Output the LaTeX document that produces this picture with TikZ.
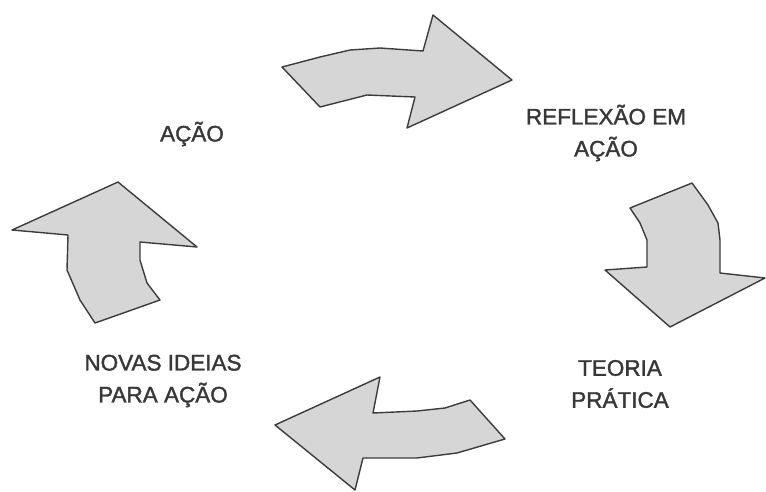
\documentclass[tikz,border=0pt]{standalone}
\usepackage{fontspec}
\setmainfont{Liberation Sans}
\newfontfamily\labelfont[FakeBold=1.6]{Liberation Sans}
\definecolor{arrowfill}{HTML}{D6D6D6}
\definecolor{arrowline}{HTML}{3C3C3C}
\definecolor{labeltext}{HTML}{383838}
\begin{document}
\begin{tikzpicture}[x=1pt,y=-1pt,
  cyclearrow/.style={fill=arrowfill,draw=arrowline,line width=1.4pt,line join=round},
  label/.style={text=labeltext,font=\labelfont\fontsize{22.5}{32}\selectfont,align=center,inner sep=0pt}]
\useasboundingbox (0,0) rectangle (766,491);
% top arrow (ACAO -> REFLEXAO)
\draw[cyclearrow] (282,67) -- (320,57) -- (350,50) -- (380,48) -- (423,51) -- (433,15) -- (512,80)
  -- (407,128) -- (415,97) -- (367,95) -- (320,107) -- cycle;
% right arrow (REFLEXAO -> TEORIA)
\draw[cyclearrow] (630,208) -- (692,183) -- (708,205) -- (718,223) -- (720,240) -- (720,273)
  -- (765,278) -- (670,327) -- (605,270) -- (647,267) -- (647,240) -- (640,223) -- cycle;
% bottom arrow (TEORIA -> NOVAS IDEIAS)
\draw[cyclearrow] (275,425) -- (380,377) -- (373,413) -- (417,411) -- (445,408) -- (470,400)
  -- (505,439) -- (457,453) -- (417,458) -- (363,458) -- (355,490) -- cycle;
% left arrow (NOVAS IDEIAS -> ACAO)
\draw[cyclearrow] (118,182) -- (197,247) -- (140,242) -- (140,260) -- (147,283) -- (160,300)
  -- (95,323) -- (80,300) -- (67,270) -- (68,235) -- (12,230) -- cycle;
% labels
\node[label] (acao) at (192,134) {AÇÃO};
\node[label] (reflexao) at (606,133) {REFLEXÃO EM\\AÇÃO};
\node[label] (teoria) at (620,384) {TEORIA\\PRÁTICA};
\node[label] (novas) at (163,381) {NOVAS IDEIAS\\PARA AÇÃO};
\end{tikzpicture}
\end{document}
